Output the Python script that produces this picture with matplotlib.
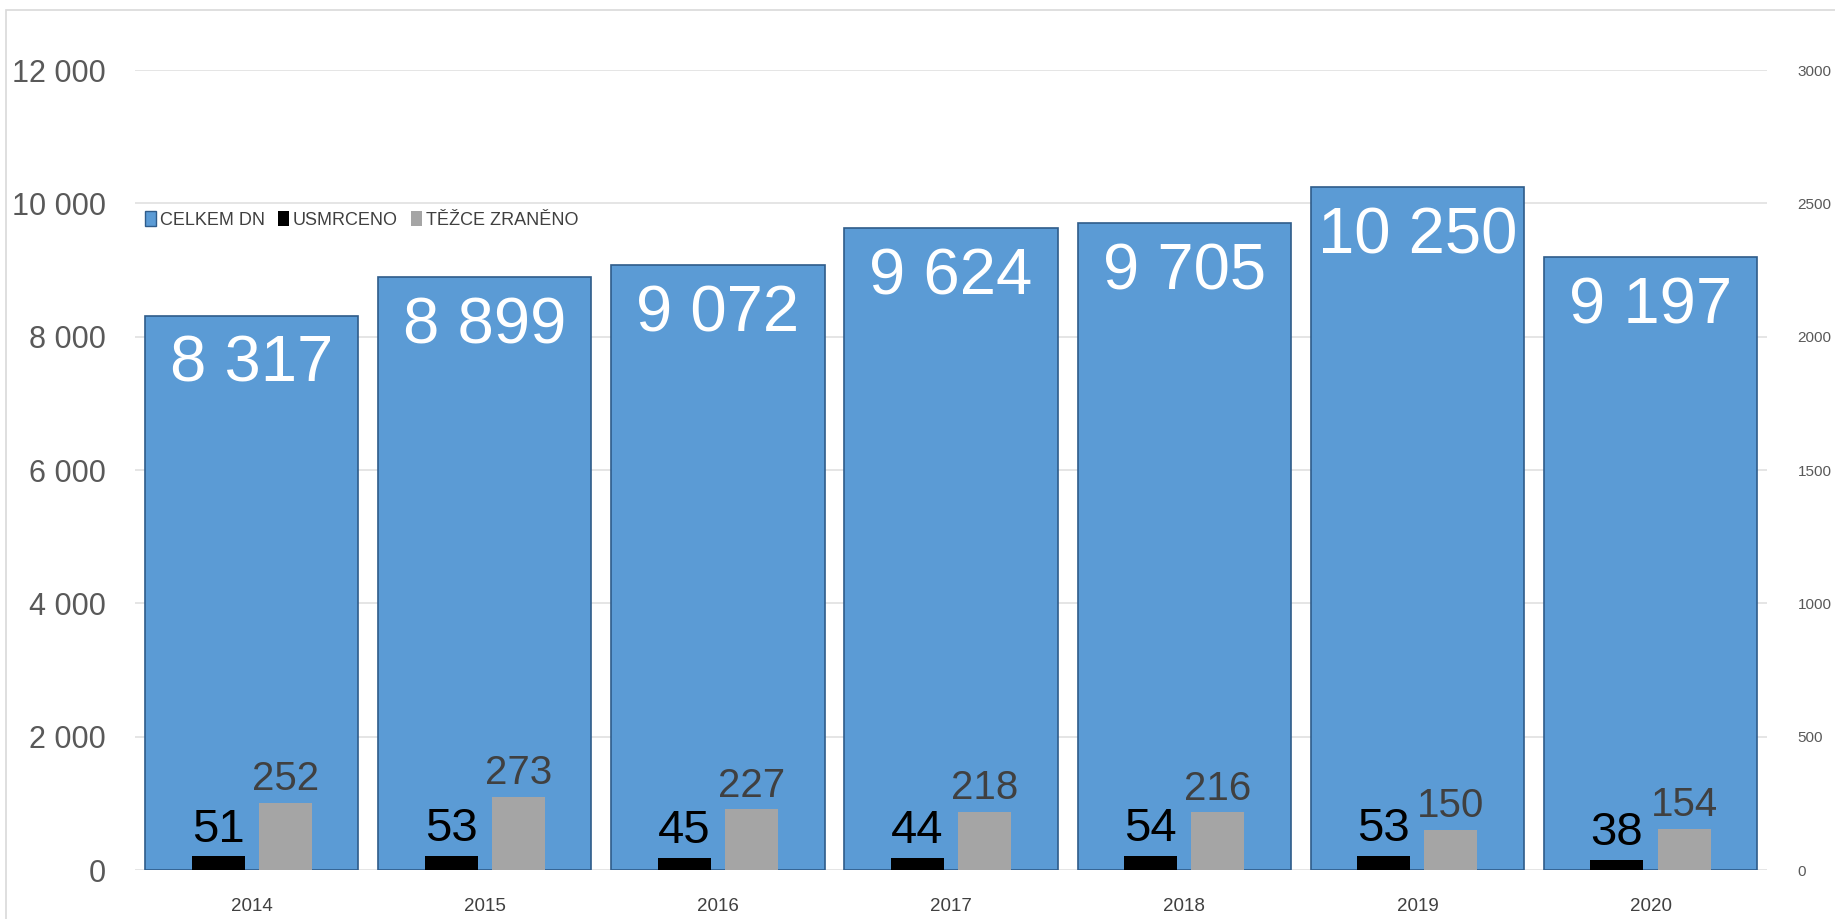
import matplotlib.pyplot as plt
import matplotlib.patches as mpatches
import numpy as np

# data
years = ["2014", "2015", "2016", "2017", "2018", "2019", "2020"]
celkem = [8317, 8899, 9072, 9624, 9705, 10250, 9197]
usmrceno = [51, 53, 45, 44, 54, 53, 38]
tezce = [252, 273, 227, 218, 216, 150, 154]
left_ticks = [0, 2000, 4000, 6000, 8000, 10000, 12000]
right_ticks = [0, 500, 1000, 1500, 2000, 2500, 3000]

blue = "#5b9bd5"
blue_edge = "#2f5c8a"
grey = "#a5a5a5"
font = ["Liberation Sans", "DejaVu Sans"]


def fmt(v):
    return "{:,}".format(v).replace(",", " ")


fig = plt.figure(figsize=(18.35, 9.19), dpi=100)
ax = fig.add_axes([0.0736, 0.0533, 0.8894, 0.8705])
ax2 = ax.twinx()

x = np.arange(len(years))

# primary axis: total accidents
ax.bar(x, celkem, width=0.915, color=blue, edgecolor=blue_edge, linewidth=1.2, zorder=2)
ax.set_ylim(0, 12000)
ax.set_xlim(-0.5, len(years) - 0.5)
ax.set_yticks(left_ticks)
ax.set_yticklabels([fmt(t) for t in left_ticks], fontsize=22, color="#595959", family=font)
ax.yaxis.grid(True, color="#e3e3e3", linewidth=1.3)
ax.set_axisbelow(True)
ax.set_xticks(x)
ax.set_xticklabels(years, fontsize=13.5, color="#404040", family=font)
ax.tick_params(axis="both", length=0)
ax.tick_params(axis="x", pad=20)
ax.tick_params(axis="y", pad=21)
for s in ax.spines.values():
    s.set_visible(False)

for xi, v in zip(x, celkem):
    ax.text(xi, v - 290, fmt(v), ha="center", va="top", fontsize=47, color="white",
            family=font, zorder=3)

# secondary axis: killed and seriously injured
off = 0.144
w = 0.227
ax2.bar(x - off, usmrceno, width=w, color="black", zorder=2)
ax2.bar(x + off, tezce, width=w, color=grey, zorder=2)
ax2.set_ylim(0, 3000)
ax2.set_yticks(right_ticks)
ax2.set_yticklabels([str(t) for t in right_ticks], fontsize=11, color="#595959", family=font)
ax2.tick_params(axis="y", length=0, pad=22)
for s in ax2.spines.values():
    s.set_visible(False)

for xi, v in zip(x, usmrceno):
    ax2.text(xi - off, v + 18, str(v), ha="center", va="bottom", fontsize=34, color="black",
             family=font)
for xi, v in zip(x, tezce):
    ax2.text(xi + off, v + 18, str(v), ha="center", va="bottom", fontsize=29, color="#404040",
             family=font)

handles = [
    mpatches.Patch(facecolor=blue, edgecolor=blue_edge, label="CELKEM DN"),
    mpatches.Patch(facecolor="black", label="USMRCENO"),
    mpatches.Patch(facecolor=grey, label="TĚŽCE ZRANĚNO"),
]
ax2.legend(handles=handles, loc="center left", bbox_to_anchor=(-0.004, 0.8125), ncol=3,
           frameon=False, handlelength=0.6, handleheight=0.9, handletextpad=0.25,
           columnspacing=0.7, prop={"family": font, "size": 13}, labelcolor="#404040")

# light outer frame
fig.patches.append(mpatches.Rectangle((0.003, -0.01), 1.2, 0.999, transform=fig.transFigure,
                                      fill=False, edgecolor="#d9d9d9", linewidth=1.2))

fig.savefig("out.png", dpi=100)
